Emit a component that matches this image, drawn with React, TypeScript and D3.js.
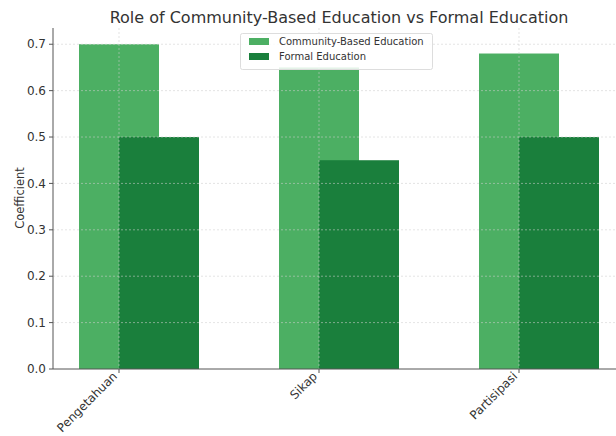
import React from "react";
import * as d3 from "d3";

const categories = ["Pengetahuan", "Sikap", "Partisipasi"];
const communityValues = [0.7, 0.65, 0.68];
const formalValues = [0.5, 0.45, 0.5];
const yTicks = [0, 0.1, 0.2, 0.3, 0.4, 0.5, 0.6, 0.7];
const seriesNames = ["Community-Based Education", "Formal Education"];
const title = "Role of Community-Based Education vs Formal Education";
const yLabel = "Coefficient";

const W = 616;
const H = 436;
const LIGHT = "#4caf63";
const DARK = "#1a7f3c";
const FONT = "DejaVu Sans, sans-serif";
const TEXT = "#333";

export default function App() {
  const barW = 0.4;
  const x = d3.scaleLinear().domain([-0.33, 2.53]).range([53, 625]);
  const y = d3.scaleLinear().domain([0, 0.735]).range([369, 28]);
  const bw = x(barW) - x(0);

  return (
    <svg
      width={W}
      height={H}
      style={{ position: "absolute", left: 0, top: 0, background: "#fff" }}
      fontFamily={FONT}
    >
      <rect width={W} height={H} fill="#fff" />
      <text x={339} y={23} textAnchor="middle" fontSize={16} fill={TEXT}>
        {title}
      </text>
      {categories.map((c, i) => (
        <g key={c}>
          <rect
            x={x(i) - bw / 2}
            y={y(communityValues[i])}
            width={bw}
            height={y(0) - y(communityValues[i])}
            fill={LIGHT}
          />
          <rect
            x={x(i + 0.2) - bw / 2}
            y={y(formalValues[i])}
            width={bw}
            height={y(0) - y(formalValues[i])}
            fill={DARK}
          />
        </g>
      ))}
      {/* grid */}
      {yTicks.slice(1).map((t) => (
        <line
          key={"gy" + t}
          x1={53}
          x2={W}
          y1={y(t)}
          y2={y(t)}
          stroke="#cfcfcf"
          strokeOpacity={0.7}
          strokeWidth={0.8}
          strokeDasharray="2,2"
        />
      ))}
      {categories.map((c, i) => (
        <line
          key={"gx" + c}
          x1={x(i)}
          x2={x(i)}
          y1={28}
          y2={369}
          stroke="#cfcfcf"
          strokeOpacity={0.7}
          strokeWidth={0.8}
          strokeDasharray="2,2"
        />
      ))}
      {/* axes */}
      <line x1={53} x2={53} y1={28} y2={369} stroke="#555" strokeWidth={1} />
      <line x1={53} x2={W} y1={369} y2={369} stroke="#555" strokeWidth={1} />
      {yTicks.map((t) => (
        <g key={"yt" + t}>
          <line x1={49} x2={53} y1={y(t)} y2={y(t)} stroke="#555" />
          <text
            x={46}
            y={y(t)}
            dy="0.35em"
            textAnchor="end"
            fontSize={12}
            fill={TEXT}
          >
            {t.toFixed(1)}
          </text>
        </g>
      ))}
      {categories.map((c, i) => (
        <g key={"xt" + c}>
          <line x1={x(i)} x2={x(i)} y1={369} y2={373} stroke="#555" />
          <text
            transform={`translate(${x(i) - 1},${377}) rotate(-45)`}
            textAnchor="end"
            fontSize={12}
            fill={TEXT}
          >
            {c}
          </text>
        </g>
      ))}
      <text
        transform={`translate(24,198) rotate(-90)`}
        textAnchor="middle"
        fontSize={11.5}
        fill={TEXT}
      >
        {yLabel}
      </text>
      {/* legend */}
      <g>
        <rect
          x={240.5}
          y={33.5}
          width={192}
          height={36}
          fill="#fff"
          fillOpacity={0.85}
          stroke="#ddd"
          rx={2}
        />
        {seriesNames.map((s, i) => (
          <g key={s}>
            <rect
              x={249}
              y={38 + i * 15}
              width={20}
              height={7}
              fill={i === 0 ? LIGHT : DARK}
            />
            <text
              x={279}
              y={41.5 + i * 15}
              dy="0.35em"
              fontSize={10}
              fill={TEXT}
            >
              {s}
            </text>
          </g>
        ))}
      </g>
    </svg>
  );
}
